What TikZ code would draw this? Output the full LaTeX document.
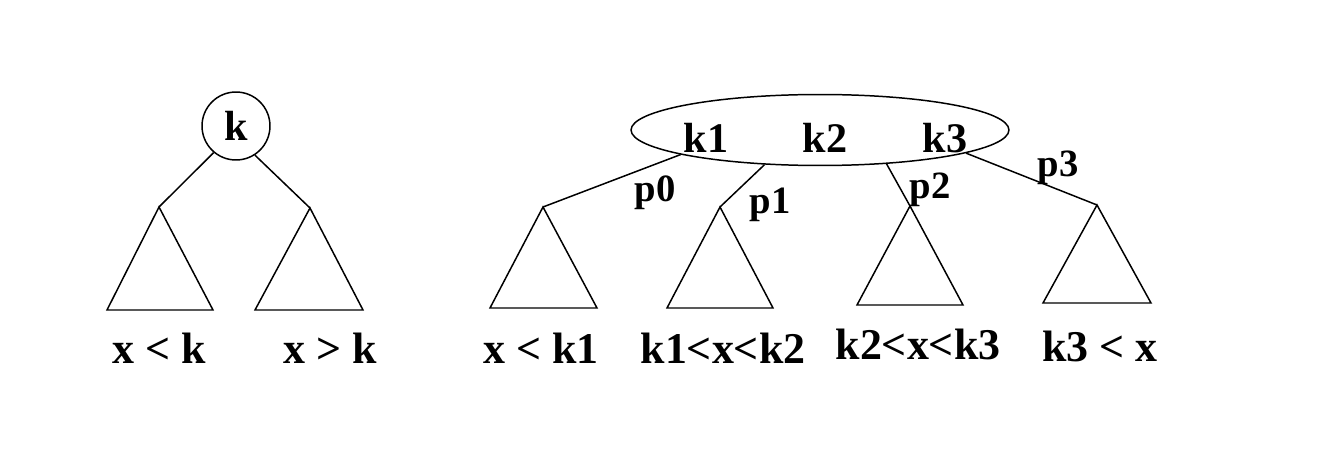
\documentclass[tikz,border=0pt]{standalone}
\usepackage{fontspec}
\setmainfont{Liberation Serif}
\usetikzlibrary{shapes.geometric}
\begin{document}
\begin{tikzpicture}[x=0.02cm,y=-0.02cm,
  ln/.style={line width=0.85pt,black},
  lab/.style={font=\fontsize{25}{29}\selectfont\bfseries,inner sep=0pt,anchor=base},
  klab/.style={font=\fontsize{24}{28}\selectfont\bfseries,inner sep=0pt,anchor=base},
  plab/.style={font=\fontsize{22}{26}\selectfont\bfseries,inner sep=0pt}]
\useasboundingbox (0,0) rectangle (1326,466);
% left tree
\node[circle,draw,ln,minimum size=1.36cm,inner sep=0pt,font=\fontsize{24}{28}\selectfont\bfseries] (k) at (236,126) {k};
\coordinate (a1) at (159,207);
\coordinate (a2) at (310,208);
\draw[ln] (a1) -- (107,310) -- (213,310) -- cycle;
\draw[ln] (a2) -- (255,310) -- (363,310) -- cycle;
\draw[ln] (k.230) -- (a1);
\draw[ln] (k.303) -- (a2);
\node[lab] (l1) at (159,363) {x < k};
\node[lab] (l2) at (330,363) {x > k};
% right tree
\node[ellipse,draw,ln,minimum width=7.56cm,minimum height=1.42cm,inner sep=0pt] (e) at (820,130) {};
\node[klab] (k1) at (706,153) {k1};
\node[klab] (k2) at (825,153) {k2};
\node[klab] (k3) at (945,153) {k3};
\coordinate (b1) at (543,207);
\coordinate (b2) at (720,207);
\coordinate (b3) at (910,206);
\coordinate (b4) at (1097,205);
\draw[ln] (b1) -- (490,308) -- (597,308) -- cycle;
\draw[ln] (b2) -- (667,308) -- (773,308) -- cycle;
\draw[ln] (b3) -- (857,305) -- (963,305) -- cycle;
\draw[ln] (b4) -- (1043,303) -- (1151,303) -- cycle;
\draw[ln] (e.190) -- (b1);
\draw[ln] (e.212) -- (b2);
\draw[ln] (e.333) -- (b3);
\draw[ln] (e.351) -- (b4);
\node[plab] (p0) at (655,193) {p0};
\node[plab] (p1) at (770,205) {p1};
\node[plab] (p2) at (930,190) {p2};
\node[plab] (p3) at (1058,168) {p3};
\node[lab] (m1) at (541,363) {x < k1};
\node[lab] (m2) at (723,363) {k1<x<k2};
\node[lab] (m3) at (918,359) {k2<x<k3};
\node[lab] (m4) at (1100,361) {k3 < x};
\end{tikzpicture}
\end{document}
